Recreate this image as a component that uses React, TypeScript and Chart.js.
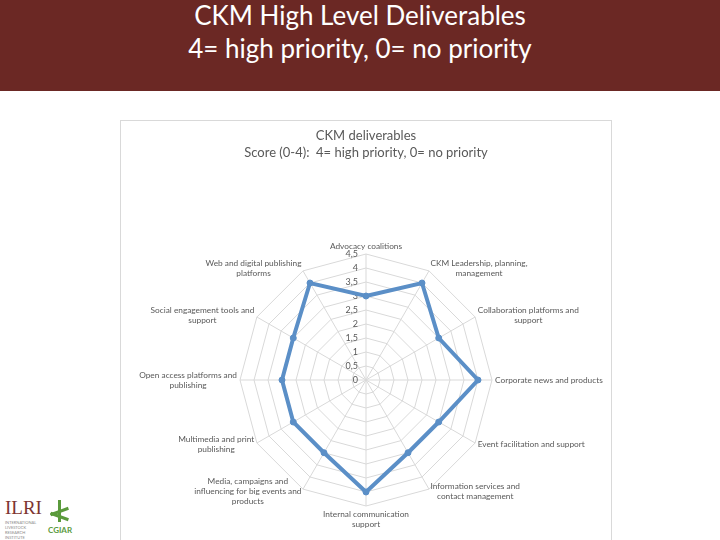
import React, { useEffect, useRef } from "react";
import { Chart, registerables } from "chart.js";

Chart.register(...registerables);

const bannerLines = ["CKM High Level Deliverables", "4= high priority, 0= no priority"];
const chartTitle = ["CKM deliverables", "Score (0-4):  4= high priority, 0= no priority"];

const categories: string[][] = [
  ["Advocacy coalitions"],
  ["CKM Leadership, planning,", "management"],
  ["Collaboration platforms and", "support"],
  ["Corporate news and products"],
  ["Event facilitation and support"],
  ["Information services and", "contact management"],
  ["Internal communication", "support"],
  ["Media, campaigns and", "influencing for big events and", "products"],
  ["Multimedia and print", "publishing"],
  ["Open access platforms and", "publishing"],
  ["Social engagement tools and", "support"],
  ["Web and digital publishing", "platforms"],
];

const scores = [3, 4, 3, 4, 3, 3, 4, 3, 3, 3, 3, 4];

const scaleMin = 0;
const scaleMax = 4.5;
const scaleStep = 0.5;

const LABEL_FONT = "8.3px Lato";
const LABEL_COLOR = "#595959";
const LINE_COLOR = "#5B8FC7";

const tickLabelPlugin = {
  id: "tickLabelsLeft",
  beforeDatasetsDraw(chart: any) {
    const scale = chart.scales.r;
    const ctx = chart.ctx;
    ctx.save();
    ctx.font = "9px Lato";
    ctx.fillStyle = LABEL_COLOR;
    ctx.textAlign = "right";
    ctx.textBaseline = "middle";
    scale.ticks.forEach((t: any) => {
      const d = scale.getDistanceFromCenterForValue(t.value);
      const label = String(t.value).replace(".", ",");
      ctx.fillText(label, scale.xCenter - 8, scale.yCenter - d);
    });
    ctx.restore();
  },
};

const pointLabelPlugin = {
  id: "pointLabelsExcel",
  afterDraw(chart: any) {
    const scale = chart.scales.r;
    const ctx = chart.ctx;
    ctx.save();
    ctx.font = LABEL_FONT;
    ctx.fillStyle = LABEL_COLOR;
    ctx.textAlign = "center";
    ctx.textBaseline = "middle";
    const lh = 10;
    categories.forEach((lines, i) => {
      const p = scale.getPointPosition(i, scale.drawingArea + 3);
      const dx = p.x - scale.xCenter;
      const dy = p.y - scale.yCenter;
      const w = Math.max(...lines.map((l) => ctx.measureText(l).width));
      const h = lines.length * lh;
      let cx: number;
      let top: number;
      if (Math.abs(dx) < 1) {
        cx = p.x;
        top = dy < 0 ? p.y - h : p.y;
      } else {
        cx = dx > 0 ? p.x + w / 2 : p.x - w / 2;
        top = p.y - h / 2;
      }
      lines.forEach((l, j) => ctx.fillText(l, cx, top + lh * (j + 0.5)));
    });
    ctx.restore();
  },
};

export default function App() {
  const ref = useRef<HTMLCanvasElement>(null);

  useEffect(() => {
    const chart = new Chart(ref.current as HTMLCanvasElement, {
      type: "radar",
      data: {
        labels: categories.map((c) => c.join(" ")),
        datasets: [
          {
            label: "Score",
            data: scores,
            borderColor: LINE_COLOR,
            backgroundColor: "rgba(0,0,0,0)",
            borderWidth: 4,
            pointRadius: 3,
            pointBackgroundColor: LINE_COLOR,
            pointBorderColor: LINE_COLOR,
            pointBorderWidth: 1,
            fill: false,
            tension: 0,
          },
        ],
      },
      options: {
        animation: false,
        responsive: false,
        layout: { padding: { left: 119, right: 119, top: 0, bottom: 40 } },
        plugins: {
          legend: { display: false },
          tooltip: { enabled: false },
          title: {
            display: true,
            text: chartTitle,
            color: "#595959",
            font: { family: "Lato", size: 13, weight: "normal", lineHeight: "17px" },
            padding: { top: 6, bottom: 0 },
          },
        },
        scales: {
          r: {
            min: scaleMin,
            max: scaleMax,
            ticks: { stepSize: scaleStep, display: false },
            grid: { color: "#d9d9d9", lineWidth: 1 },
            angleLines: { color: "#d9d9d9", lineWidth: 1 },
            pointLabels: { display: false },
          },
        },
      },
      plugins: [tickLabelPlugin, pointLabelPlugin],
    } as any);
    return () => chart.destroy();
  }, []);

  return (
    <div
      style={{
        position: "fixed",
        left: 0,
        top: 0,
        width: 720,
        height: 540,
        overflow: "hidden",
        background: "#ffffff",
        fontFamily: "Lato, sans-serif",
      }}
    >
      <div
        style={{
          position: "absolute",
          left: 0,
          top: 0,
          width: 720,
          height: 91,
          background: "#6B2824",
        }}
      >
        {bannerLines.map((t, i) => (
          <div
            key={i}
            style={{
              position: "absolute",
              left: 0,
              width: 720,
              top: 15 + i * 33 - 16,
              height: 32,
              lineHeight: "32px",
              textAlign: "center",
              color: "#ffffff",
              fontSize: 26,
            }}
          >
            {t}
          </div>
        ))}
      </div>
      <div
        style={{
          position: "absolute",
          left: 120,
          top: 120,
          width: 490,
          height: 520,
          border: "1px solid #d9d9d9",
        }}
      >
        <canvas ref={ref} width={490} height={518} style={{ display: "block", width: 490, height: 518 }} />
      </div>
      <div style={{ position: "absolute", left: 5, top: 497, fontFamily: "Liberation Serif, serif", fontSize: 19, color: "#7d3431", letterSpacing: 0 }}>
        ILRI
      </div>
      <div style={{ position: "absolute", left: 5, top: 520, fontSize: 4, lineHeight: "5px", color: "#8a8a8a", width: 32 }}>
        INTERNATIONAL LIVESTOCK RESEARCH INSTITUTE
      </div>
      <div style={{ position: "absolute", left: 58, top: 500, width: 3, height: 22, background: "#5a9a3c" }} />
      <div style={{ position: "absolute", left: 50, top: 510, width: 19, height: 3, background: "#5a9a3c", transform: "rotate(-20deg)" }} />
      <div style={{ position: "absolute", left: 50, top: 515, width: 19, height: 3, background: "#5a9a3c", transform: "rotate(20deg)" }} />
      <div style={{ position: "absolute", left: 48, top: 525, fontSize: 8, fontWeight: "bold", color: "#5a9a3c" }}>CGIAR</div>
    </div>
  );
}
